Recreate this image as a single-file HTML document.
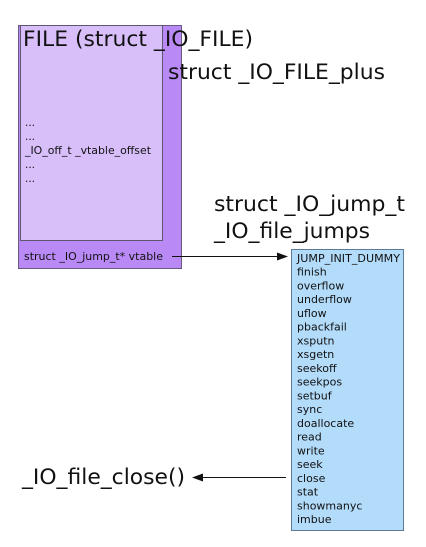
<!DOCTYPE html>
<html><head><meta charset="utf-8"><style>html,body{margin:0;padding:0;background:#fff}svg{display:block}text{font-family:"DejaVu Sans","Liberation Sans",sans-serif;fill:#111}</style></head>
<body>
<svg width="426" height="547" viewBox="0 0 426 547" xmlns="http://www.w3.org/2000/svg">
<rect x="18.5" y="25.5" width="163" height="243" fill="#b98af5" stroke="#6a5a80" stroke-width="1"/>
<rect x="20.5" y="25.5" width="142" height="215" fill="#d8bffa" stroke="#5e5670" stroke-width="1"/>
<text x="23" y="46" font-size="21" textLength="230" lengthAdjust="spacingAndGlyphs">FILE (struct _IO_FILE)</text>
<text x="168" y="79" font-size="21" textLength="217" lengthAdjust="spacingAndGlyphs">struct _IO_FILE_plus</text>
<g font-size="10.5">
<text x="25" y="126">...</text>
<text x="25" y="140">...</text>
<text x="25" y="154" textLength="126" lengthAdjust="spacingAndGlyphs">_IO_off_t _vtable_offset</text>
<text x="25" y="168">...</text>
<text x="25" y="182">...</text>
<text x="24" y="260" textLength="139" lengthAdjust="spacingAndGlyphs">struct _IO_jump_t* vtable</text>
</g>
<text x="214" y="211" font-size="21" textLength="191" lengthAdjust="spacingAndGlyphs">struct _IO_jump_t</text>
<text x="214" y="238" font-size="21" textLength="156" lengthAdjust="spacingAndGlyphs">_IO_file_jumps</text>
<line x1="172" y1="256.5" x2="280" y2="256.5" stroke="#111" stroke-width="1"/>
<polygon points="288,256.5 277,252.5 277,260.5" fill="#111"/>
<rect x="291.5" y="249.5" width="112" height="281" fill="#b3dcfb" stroke="#5a7a95" stroke-width="1"/>
<g font-size="11">
<text x="297" y="262" textLength="103" lengthAdjust="spacingAndGlyphs">JUMP_INIT_DUMMY</text>
<text x="297" y="275.7">finish</text>
<text x="297" y="289.5">overflow</text>
<text x="297" y="303.2">underflow</text>
<text x="297" y="317">uflow</text>
<text x="297" y="330.7">pbackfail</text>
<text x="297" y="344.4">xsputn</text>
<text x="297" y="358.2">xsgetn</text>
<text x="297" y="371.9">seekoff</text>
<text x="297" y="385.7">seekpos</text>
<text x="297" y="399.4">setbuf</text>
<text x="297" y="413.1">sync</text>
<text x="297" y="426.9">doallocate</text>
<text x="297" y="440.6">read</text>
<text x="297" y="454.4">write</text>
<text x="297" y="468.1">seek</text>
<text x="297" y="481.8">close</text>
<text x="297" y="495.6">stat</text>
<text x="297" y="509.3">showmanyc</text>
<text x="297" y="523">imbue</text>
</g>
<text x="22" y="484" font-size="21" textLength="163" lengthAdjust="spacingAndGlyphs">_IO_file_close()</text>
<line x1="286" y1="477.5" x2="200" y2="477.5" stroke="#111" stroke-width="1"/>
<polygon points="192,477.5 203,473.5 203,481.5" fill="#111"/>
</svg>
</body></html>
